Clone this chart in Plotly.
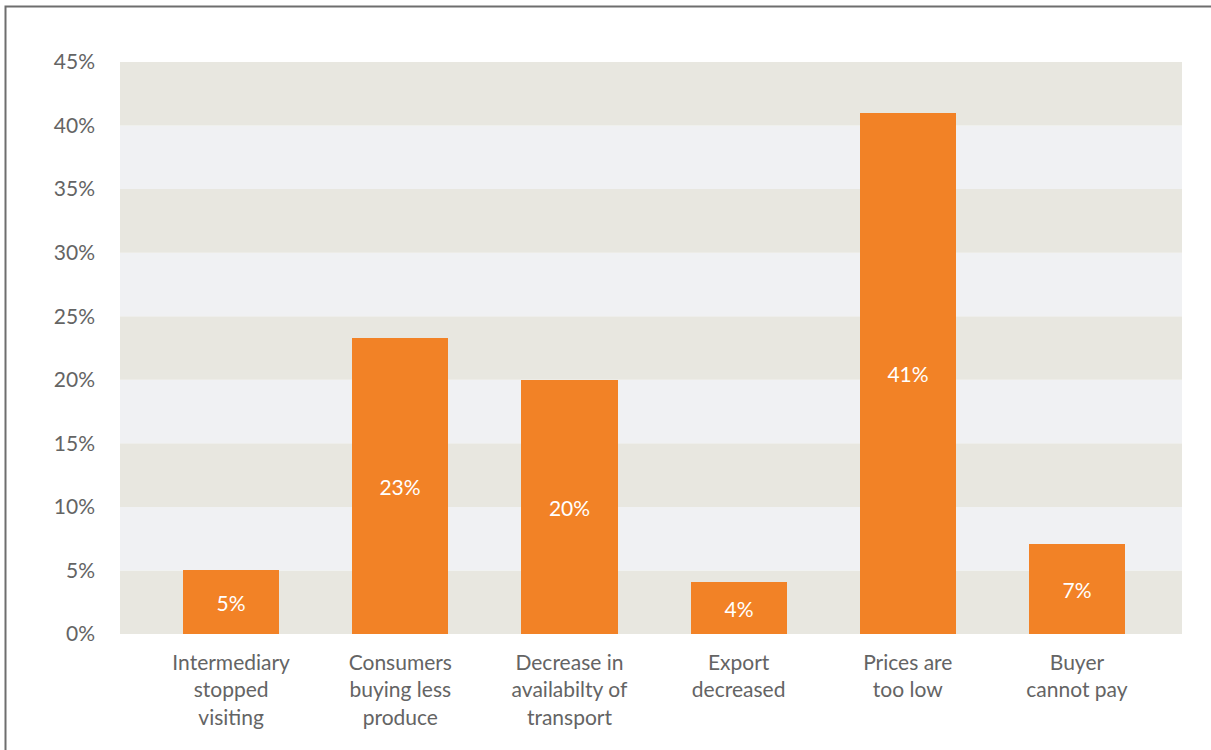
import plotly.graph_objects as go

# Survey responses: reasons for reduced sales
categories = [
    "Intermediary<br>stopped<br>visiting",
    "Consumers<br>buying less<br>produce",
    "Decrease in<br>availabilty of<br>transport",
    "Export<br>decreased",
    "Prices are<br>too low",
    "Buyer<br>cannot pay",
]
shares = [5.0, 23.3, 20.0, 4.1, 41.0, 7.1]
y_ticks = [0, 5, 10, 15, 20, 25, 30, 35, 40, 45]
y_tick_labels = [f"{v}%" for v in y_ticks]

ORANGE = "#F28226"
BAND_DARK = "#E8E7E0"
BAND_LIGHT = "#F0F1F3"
TEXT_GREY = "#646464"
FONT = "Lato, 'Open Sans', sans-serif"
FONT_SIZE = 21

W, H = 1211, 750
ML, MR, MT, MB = 120, 29, 62, 115.5
plot_w = W - ML - MR
plot_h = H - MT - MB

xpos = list(range(len(categories)))

fig = go.Figure(
    go.Bar(
        x=xpos,
        y=shares,
        width=0.568,
        marker=dict(color=ORANGE, line=dict(width=0)),
        texttemplate="%{y:.0f}%",
        textposition="inside",
        insidetextanchor="middle",
        textangle=0,
        textfont=dict(family=FONT, size=FONT_SIZE, color="white"),
        hoverinfo="skip",
    )
)

# Alternating horizontal bands behind the bars
shapes = []
for i in range(len(y_ticks) - 1):
    shapes.append(dict(
        type="rect", xref="paper", yref="y",
        x0=0, x1=1, y0=y_ticks[i], y1=y_ticks[i + 1],
        fillcolor=BAND_DARK if i % 2 == 0 else BAND_LIGHT,
        line=dict(width=0), layer="below",
    ))

# Outer frame around the chart
px_to_x = lambda px: (px - ML) / plot_w
px_to_y = lambda py: 1 - (py - MT) / plot_h
shapes.append(dict(
    type="rect", xref="paper", yref="paper",
    x0=px_to_x(5.5), x1=px_to_x(W + 20),
    y0=px_to_y(H + 20), y1=px_to_y(6.5),
    line=dict(color="#6E6E6E", width=2), fillcolor="rgba(0,0,0,0)",
    layer="above",
))

fig.update_layout(
    width=W, height=H,
    margin=dict(l=ML, r=MR, t=MT, b=MB, pad=0),
    paper_bgcolor="white",
    plot_bgcolor="white",
    showlegend=False,
    bargap=0,
    shapes=shapes,
    font=dict(family=FONT, color=TEXT_GREY, size=FONT_SIZE),
)
fig.update_xaxes(
    range=[-0.657, 5.621],
    tickvals=xpos, ticktext=categories,
    showgrid=False, zeroline=False, showline=False,
    ticks="", ticklabelstandoff=14,
    tickfont=dict(family=FONT, size=FONT_SIZE, color=TEXT_GREY),
)
fig.update_yaxes(
    range=[0, 45],
    tickvals=y_ticks, ticktext=y_tick_labels,
    showgrid=False, zeroline=False, showline=False,
    ticks="", ticklabelstandoff=24,
    tickfont=dict(family=FONT, size=FONT_SIZE, color=TEXT_GREY),
)

fig.write_html("out.html")
